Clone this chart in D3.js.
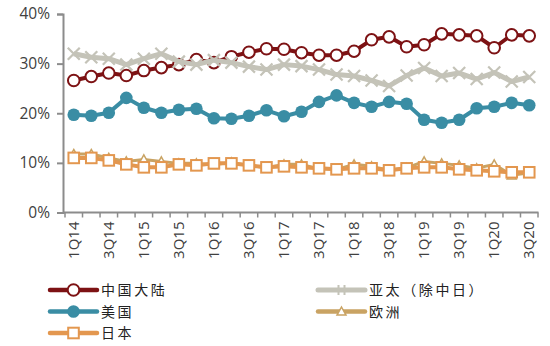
<!DOCTYPE html>
<html>
<head>
<meta charset="utf-8">
<script src="https://cdn.jsdelivr.net/npm/d3@7"></script>
<style>
html,body{margin:0;padding:0;background:#fff;}
svg{display:block;}
</style>
</head>
<body>
<svg id="chart" width="550" height="346"></svg>
<script>
const quarters = ["1Q14","2Q14","3Q14","4Q14","1Q15","2Q15","3Q15","4Q15","1Q16","2Q16","3Q16","4Q16","1Q17","2Q17","3Q17","4Q17","1Q18","2Q18","3Q18","4Q18","1Q19","2Q19","3Q19","4Q19","1Q20","2Q20","3Q20"];
const tickLabels = ["1Q14","3Q14","1Q15","3Q15","1Q16","3Q16","1Q17","3Q17","1Q18","3Q18","1Q19","3Q19","1Q20","3Q20"];
const yTicks = [0,10,20,30,40];

const chinaMainland = [26.6,27.4,28.1,27.6,28.6,29.2,29.8,30.8,30.2,31.4,32.3,33.0,32.9,32.2,31.7,31.7,32.5,34.8,35.4,33.4,33.8,36.0,35.8,35.6,33.2,35.8,35.6];
const asiaPacific   = [32.0,31.3,31.0,29.8,31.0,32.0,30.4,29.8,30.7,30.2,29.4,28.8,29.8,29.5,28.8,27.8,27.5,26.6,25.5,27.6,29.1,27.5,28.1,26.9,28.2,26.4,27.3];
const usa           = [19.7,19.5,20.1,23.1,21.1,20.1,20.7,20.9,19.0,18.9,19.5,20.6,19.4,20.3,22.3,23.6,22.1,21.3,22.3,21.9,18.7,18.1,18.7,21.0,21.3,22.1,21.6];
const europe        = [11.8,11.8,11.0,10.3,10.7,10.3,9.9,9.9,9.6,10.1,9.5,9.0,9.7,9.7,8.8,8.7,9.7,9.3,8.5,9.0,10.3,9.9,9.5,8.9,9.7,7.5,8.0];
const japan         = [11.0,11.0,10.5,9.7,9.1,9.1,9.7,9.5,9.9,9.9,9.5,9.1,9.3,9.1,8.9,8.7,8.9,8.9,8.5,8.9,9.1,9.1,8.7,8.5,8.3,8.1,8.1];

const seriesNames = ["中国大陆","亚太（除中日）","美国","欧洲","日本"];

const series = [
  {name: seriesNames[0], values: chinaMainland, color: "#7d1214", width: 4, marker: "circleOpen"},
  {name: seriesNames[1], values: asiaPacific,   color: "#c4c3b8", width: 5, marker: "x"},
  {name: seriesNames[2], values: usa,           color: "#3a8da4", width: 4, marker: "circleFilled"},
  {name: seriesNames[3], values: europe,        color: "#c9a363", width: 3, marker: "triangle"},
  {name: seriesNames[4], values: japan,         color: "#e3974f", width: 4, marker: "square"}
];

const svg = d3.select("#chart");
const axisColor = "#8c8c8c";
const textColor = "#404040";
const font = "'Open Sans', 'Liberation Sans', Arial, sans-serif";

const x = d3.scaleBand().domain(quarters).range([65, 538]);
const y = d3.scaleLinear().domain([0, 40]).range([212.5, 14]);
const cx = q => x(q) + x.bandwidth() / 2;

// Y axis
const yAxis = d3.axisLeft(y).tickValues(yTicks).tickFormat(d => d + "%").tickSize(6).tickPadding(7);
const gy = svg.append("g").attr("transform", "translate(63,0)").call(yAxis);
gy.select(".domain").attr("stroke", axisColor).attr("stroke-width", 2);
gy.selectAll(".tick line").attr("stroke", axisColor).attr("stroke-width", 2);
gy.selectAll(".tick text").attr("fill", textColor).attr("font-size", 15.5).attr("font-family", font);

// X axis
const xAxis = d3.axisBottom(x).tickSize(0).tickFormat(d => tickLabels.includes(d) ? d : "");
const gx = svg.append("g").attr("transform", "translate(0,212.5)").call(xAxis);
gx.select(".domain").remove();
gx.append("line").attr("x1", 63).attr("x2", 538.5).attr("y1", 0).attr("y2", 0).attr("stroke", axisColor).attr("stroke-width", 2);
const edges = quarters.map(q => x(q)).concat([x(quarters[quarters.length-1]) + x.bandwidth()]);
gx.selectAll(".edge").data(edges).enter().append("line")
  .attr("x1", d => d).attr("x2", d => d).attr("y1", 0).attr("y2", 5)
  .attr("stroke", axisColor).attr("stroke-width", 1.5);
gx.selectAll(".tick text")
  .attr("fill", textColor).attr("font-size", 15).attr("font-family", font)
  .attr("transform", "rotate(-90)")
  .attr("text-anchor", "end")
  .attr("x", -9).attr("y", 0).attr("dy", "0.35em");

function drawMarker(g, type, color, px, py) {
  if (type === "circleOpen") {
    g.append("circle").attr("cx", px).attr("cy", py).attr("r", 5.8)
      .attr("fill", "#fff").attr("stroke", color).attr("stroke-width", 2);
  } else if (type === "circleFilled") {
    g.append("circle").attr("cx", px).attr("cy", py).attr("r", 6.3).attr("fill", color);
  } else if (type === "square") {
    const s = 5.3;
    g.append("rect").attr("x", px - s).attr("y", py - s).attr("width", 2*s).attr("height", 2*s)
      .attr("fill", "#fff").attr("stroke", color).attr("stroke-width", 2);
  } else if (type === "triangle") {
    const s = 4.5;
    g.append("path").attr("d", `M${px},${py - s}L${px + s},${py + s*0.8}L${px - s},${py + s*0.8}Z`)
      .attr("fill", "#fff").attr("stroke", color).attr("stroke-width", 1.5);
  } else if (type === "x") {
    const s = 6;
    g.append("path").attr("d", `M${px - s},${py - s}L${px + s},${py + s}M${px - s},${py + s}L${px + s},${py - s}`)
      .attr("stroke", color).attr("stroke-width", 2.2).attr("fill", "none");
  }
}

const line = d3.line().x((d, i) => cx(quarters[i])).y(d => y(d));

series.forEach(s => {
  const g = svg.append("g");
  g.append("path").datum(s.values).attr("d", line)
    .attr("fill", "none").attr("stroke", s.color).attr("stroke-width", s.width)
    .attr("stroke-linejoin", "round");
  s.values.forEach((v, i) => drawMarker(g, s.marker, s.color, cx(quarters[i]), y(v)));
});

// Legend
const legendPos = [
  {x: 50, y: 290}, {x: 318, y: 290},
  {x: 50, y: 311.5}, {x: 318, y: 311.5},
  {x: 50, y: 333}
];
series.forEach((s, i) => {
  const p = legendPos[i];
  const g = svg.append("g");
  g.append("line").attr("x1", p.x).attr("x2", p.x + 47).attr("y1", p.y).attr("y2", p.y)
    .attr("stroke", s.color).attr("stroke-width", s.width === 5 ? 5 : 4.5).attr("stroke-linecap", "round");
  if (s.marker === "x") {
    const mx = p.x + 23.5;
    g.append("path").attr("d", `M${mx-3},${p.y-5}L${mx-3},${p.y+5}M${mx+3},${p.y-5}L${mx+3},${p.y+5}`)
      .attr("stroke", s.color).attr("stroke-width", 2);
  } else {
    drawMarker(g, s.marker, s.color, p.x + 23.5, p.y);
  }
  g.append("text").attr("x", p.x + 51).attr("y", p.y).attr("dy", "0.36em")
    .attr("font-family", "'Noto Sans CJK SC', sans-serif").attr("font-size", 14)
    .attr("letter-spacing", 2.6).attr("fill", "#222").text(s.name);
});
</script>
</body>
</html>
